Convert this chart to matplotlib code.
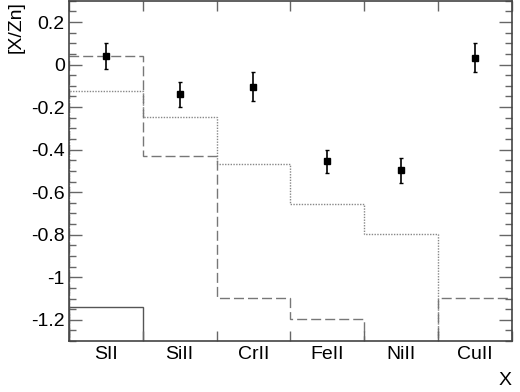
import matplotlib
matplotlib.use('Agg')
import matplotlib.pyplot as plt
import numpy as np

plt.rcParams['font.family'] = ['Liberation Sans', 'DejaVu Sans']

# element labels (one bin each)
elements = ['SII', 'SiII', 'CrII', 'FeII', 'NiII', 'CuII']
# measured abundance ratios [X/Zn] with errors
meas = [0.04, -0.14, -0.105, -0.455, -0.498, 0.032]
meas_err = [0.062, 0.058, 0.068, 0.055, 0.058, 0.068]
# model curves (values below -1.3 are off the plot)
model_dashed = [0.042, -0.428, -1.098, -1.198, -1.6, -1.098]
model_dotted = [-0.125, -0.247, -0.466, -0.657, -0.798, -1.6]
model_solid = [-1.138, -1.6, -1.6, -1.6, -1.6, -1.6]

fig = plt.figure(figsize=(5.2, 3.92), dpi=100)
ax = fig.add_axes([0.1327, 0.13, 0.851, 0.868])

edges = np.arange(len(elements) + 1)
centers = edges[:-1] + 0.5

ax.stairs(model_solid, edges, baseline=-2, color='#555555', lw=1.0)
ax.stairs(model_dotted, edges, baseline=-2, color='#888888', lw=1.0,
          linestyle=(0, (1, 1)))
ax.stairs(model_dashed, edges, baseline=-2, color='#777777', lw=1.0,
          linestyle=(0, (7.2, 2.9)))

ax.errorbar(centers, meas, yerr=meas_err, fmt='s', color='black', ms=4.5,
            elinewidth=1.2, capsize=1.5, capthick=1.0)

ax.set_xlim(0, len(elements))
ax.set_ylim(-1.3, 0.3)
ax.set_xticks(edges)
ax.set_xticklabels([])
ax.set_xticks(centers, minor=True)
ax.set_xticklabels(elements, minor=True, fontsize=14)
ax.set_yticks(np.arange(-1.2, 0.21, 0.2))
ax.set_yticklabels(['-1.2', '-1', '-0.8', '-0.6', '-0.4', '-0.2', '0', '0.2'],
                   fontsize=14)
ax.set_yticks(np.arange(-1.3, 0.301, 0.05), minor=True)

ax.tick_params(axis='x', which='major', direction='in', top=True, bottom=True,
               length=7.2, width=1, color='#666666')
ax.tick_params(axis='x', which='minor', length=0, pad=3.5)
ax.tick_params(axis='y', which='major', direction='in', left=True, right=True,
               length=9.4, width=1, color='#666666', pad=3)
ax.tick_params(axis='y', which='minor', direction='in', left=True, right=True,
               length=5, width=1, color='#666666')
for s in ax.spines.values():
    s.set_color('#444444')
    s.set_linewidth(1.2)

ax.set_ylabel('[X/Zn]', fontsize=14, loc='top')
ax.yaxis.set_label_coords(-0.1, 1.0)
ax.set_xlabel('X', fontsize=14, loc='right')
ax.xaxis.set_label_coords(1.0, -0.09)

fig.savefig('out.png', dpi=100)
